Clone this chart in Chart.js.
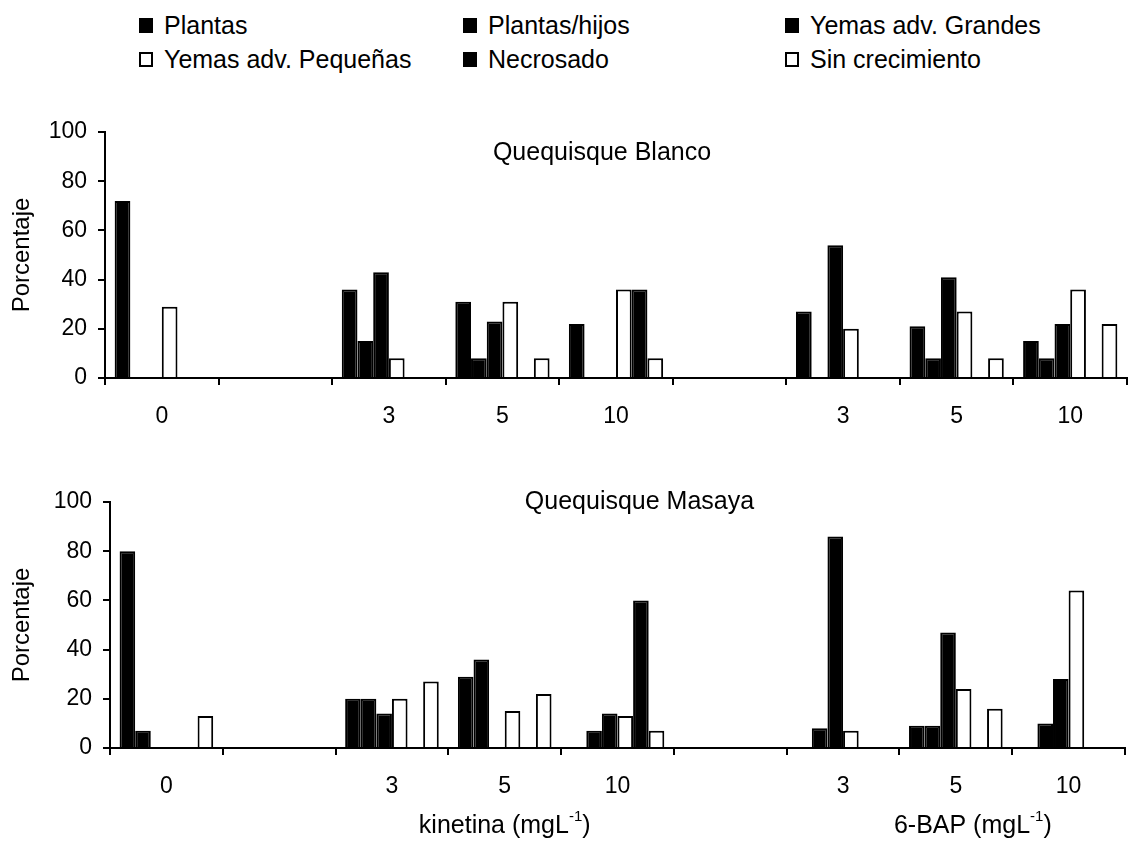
<!DOCTYPE html>
<html lang="es">
<head>
<meta charset="utf-8">
<title>Quequisque Blanco / Masaya</title>
<script src="https://cdn.jsdelivr.net/npm/chart.js@4.4.1/dist/chart.umd.min.js"></script>
<style>
  html, body { margin: 0; padding: 0; background: #fff; }
  body { width: 1133px; height: 846px; position: relative; overflow: hidden;
         font-family: "Liberation Sans", Arial, sans-serif; color: #000; }
  #legend { position: absolute; left: 139px; top: 8px; display: grid;
            grid-template-columns: 324px 322px 300px; grid-auto-rows: 34px; }
  .item { display: flex; align-items: center; font-size: 25px; white-space: nowrap; }
  .box { width: 14px; height: 15px; box-sizing: border-box; border: 2px solid #000; margin-right: 11px; }
  .panel { position: absolute; left: 0; width: 1133px; }
  #top { top: 70px; height: 370px; }
  #bottom { top: 450px; height: 396px; }
</style>
</head>
<body>
<div id="legend"></div>
<div class="panel" id="top"><canvas id="blanco-chart"></canvas></div>
<div class="panel" id="bottom"><canvas id="masaya-chart"></canvas></div>
<script>
// Dose categories: kinetina 0, 3, 5, 10 then 6-BAP 3, 5, 10 (blank slots separate the groups)
const doseLabels = ["0", "", "3", "5", "10", "", "3", "5", "10"];

const seriesNames = ["Plantas", "Plantas/hijos", "Yemas adv. Grandes",
                     "Yemas adv. Pequeñas", "Necrosado", "Sin crecimiento"];
const seriesFill = ["#000", "#000", "#000", "#fff", "#000", "#fff"];

// Quequisque Blanco (%)
const blancoPlantas     = [72, null, 36, 31, 22, null, 27, 21, 15];
const blancoHijos       = [0, null, 15, 8, 0, null, 0, 8, 8];
const blancoGrandes     = [0, null, 43, 23, 0, null, 54, 41, 22];
const blancoPequenas    = [29, null, 8, 31, 36, null, 20, 27, 36];
const blancoNecrosado   = [0, null, 0, 0, 36, null, 0, 0, 0];
const blancoSinCrec     = [0, null, 0, 8, 8, null, 0, 8, 22];

// Quequisque Masaya (%)
const masayaPlantas     = [80, null, 20, 29, 0, null, 0, 9, 0];
const masayaHijos       = [7, null, 20, 36, 7, null, 8, 9, 10];
const masayaGrandes     = [0, null, 14, 0, 14, null, 86, 47, 28];
const masayaPequenas    = [0, null, 20, 15, 13, null, 7, 24, 64];
const masayaNecrosado   = [0, null, 0, 0, 60, null, 0, 0, 0];
const masayaSinCrec     = [13, null, 27, 22, 7, null, 0, 16, 0];

const FONT = '"Liberation Sans", Arial, sans-serif';
Chart.defaults.font.family = FONT;
Chart.defaults.color = "#000";

// legend shared by both panels, 3 columns x 2 rows
const legendEl = document.getElementById("legend");
seriesNames.forEach((name, i) => {
  const item = document.createElement("div");
  item.className = "item";
  const box = document.createElement("span");
  box.className = "box";
  box.style.background = seriesFill[i];
  const txt = document.createElement("span");
  txt.textContent = name;
  item.appendChild(box);
  item.appendChild(txt);
  legendEl.appendChild(item);
});

// draws free text (panel names, group axis titles) with optional superscript
const panelText = {
  id: "panelText",
  afterDraw(chart, args, opts) {
    const { ctx, scales, chartArea } = chart;
    ctx.save();
    ctx.fillStyle = "#000";
    ctx.textBaseline = "middle";
    ctx.textAlign = "left";
    (opts.items || []).forEach(it => {
      const cx = scales.x.getPixelForValue(it.index) + (it.dx || 0);
      const cy = it.value !== undefined ? scales.y.getPixelForValue(it.value) : chartArea.bottom + it.below;
      ctx.font = "25px " + FONT;
      const w1 = ctx.measureText(it.text).width;
      const w3 = it.tail ? ctx.measureText(it.tail).width : 0;
      ctx.font = "15px " + FONT;
      const w2 = it.sup ? ctx.measureText(it.sup).width : 0;
      let x = cx - (w1 + w2 + w3) / 2;
      ctx.font = "25px " + FONT;
      ctx.fillText(it.text, x, cy);
      x += w1;
      if (it.sup) {
        ctx.font = "15px " + FONT;
        ctx.fillText(it.sup, x, cy - 9);
        x += w2;
      }
      if (it.tail) {
        ctx.font = "25px " + FONT;
        ctx.fillText(it.tail, x, cy);
      }
    });
    ctx.restore();
  }
};

function makeChart(canvasId, rows, yWidth, padding, items) {
  return new Chart(document.getElementById(canvasId), {
    type: "bar",
    data: {
      labels: doseLabels,
      datasets: rows.map((values, i) => ({
        label: seriesNames[i],
        data: values,
        backgroundColor: seriesFill[i],
        borderColor: "#000",
        borderWidth: 2,
        categoryPercentage: 0.83,
        barPercentage: 1.0
      }))
    },
    options: {
      responsive: true,
      maintainAspectRatio: false,
      animation: false,
      layout: { padding: padding },
      plugins: {
        legend: { display: false },
        tooltip: { enabled: false },
        panelText: { items: items }
      },
      scales: {
        x: {
          offset: true,
          grid: { offset: true, drawOnChartArea: false, drawTicks: true, tickLength: 7, color: "#000", lineWidth: 2 },
          border: { color: "#000", width: 2 },
          ticks: { color: "#000", font: { size: 23 }, padding: 18, autoSkip: false, maxRotation: 0 },
          afterFit: s => { s.height = 62; }
        },
        y: {
          min: 0,
          max: 100,
          ticks: { stepSize: 20, color: "#000", font: { size: 23 }, padding: 11 },
          grid: { drawOnChartArea: false, tickLength: 7, color: "#000", lineWidth: 2 },
          border: { color: "#000", width: 2 },
          title: { display: true, text: "Porcentaje", color: "#000", font: { size: 24 }, padding: { top: 8 } },
          afterFit: s => { s.width = yWidth; }
        }
      }
    },
    plugins: [panelText]
  });
}

const blancoChart = makeChart("blanco-chart",
  [blancoPlantas, blancoHijos, blancoGrandes, blancoPequenas, blancoNecrosado, blancoSinCrec],
  105, { top: 62, right: 6, bottom: 0, left: 0 },
  [{ text: "Quequisque Blanco", index: 4, dx: -14, value: 91.5 }]);

const masayaChart = makeChart("masaya-chart",
  [masayaPlantas, masayaHijos, masayaGrandes, masayaPequenas, masayaNecrosado, masayaSinCrec],
  110, { top: 52, right: 8, bottom: 36, left: 0 },
  [
    { text: "Quequisque Masaya", index: 4, dx: 22, value: 100 },
    { text: "kinetina (mgL", sup: "-1", tail: ")", index: 3, dx: 0, below: 78 },
    { text: "6-BAP (mgL", sup: "-1", tail: ")", index: 7, dx: 17, below: 78 }
  ]);
</script>
</body>
</html>
